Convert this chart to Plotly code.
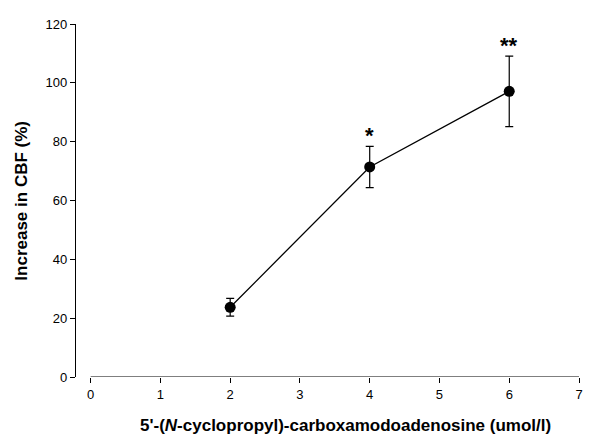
import plotly.graph_objects as go

# Data
concentration = [2, 4, 6]
increase_cbf = [23.7, 71.4, 97.1]
error_sem = [3.0, 7.0, 12.0]
significance = ["", "*", "**"]
x_ticks = [0, 1, 2, 3, 4, 5, 6, 7]
y_ticks = [0, 20, 40, 60, 80, 100, 120]

FONT = "Liberation Sans, Arial, sans-serif"

fig = go.Figure()
fig.add_trace(go.Scatter(
    x=concentration, y=increase_cbf,
    mode="lines+markers",
    line=dict(color="black", width=1.3),
    marker=dict(color="black", size=11),
    error_y=dict(type="data", array=error_sem, visible=True,
                 color="black", thickness=1.2, width=4),
    showlegend=False,
))

# offset x-axis line (starts at 0)
fig.add_shape(type="line", xref="x", yref="y",
              x0=x_ticks[0], x1=x_ticks[-1], y0=0, y1=0,
              line=dict(color="black", width=1.2))

for xv, yv, ev, s in zip(concentration, increase_cbf, error_sem, significance):
    if s:
        fig.add_annotation(x=xv, y=yv + ev, xref="x", yref="y",
                           text="<b>%s</b>" % s, showarrow=False,
                           yanchor="bottom", yshift=-4,
                           font=dict(family=FONT, size=22, color="black"))

fig.add_annotation(x=3.66, y=-0.136, xref="x", yref="paper",
                   text="<b>5'-(<i>N</i>-cyclopropyl)-carboxamodoadenosine (umol/l)</b>",
                   showarrow=False, xanchor="center", yanchor="middle",
                   font=dict(family=FONT, size=17, color="black"))
fig.add_annotation(x=-0.109, y=0.5, xref="paper", yref="paper",
                   text="<b>Increase in CBF (%)</b>", textangle=-90,
                   showarrow=False, xanchor="center", yanchor="middle",
                   font=dict(family=FONT, size=17, color="black"))

fig.update_layout(
    width=603, height=430,
    margin=dict(l=68, r=32, t=9, b=61),
    plot_bgcolor="white", paper_bgcolor="white",
    font=dict(family=FONT, size=13, color="black"),
    xaxis=dict(range=[-0.21, 7], tickvals=x_ticks, ticks="outside",
               ticklen=5, tickwidth=1, tickcolor="black",
               showline=False, showgrid=False, zeroline=False),
    yaxis=dict(range=[0, 120], tickvals=y_ticks, ticks="outside",
               ticklen=5, tickwidth=1, tickcolor="black",
               showline=True, linecolor="black", linewidth=1.2,
               showgrid=False, zeroline=False),
)

fig.write_html("out.html")
